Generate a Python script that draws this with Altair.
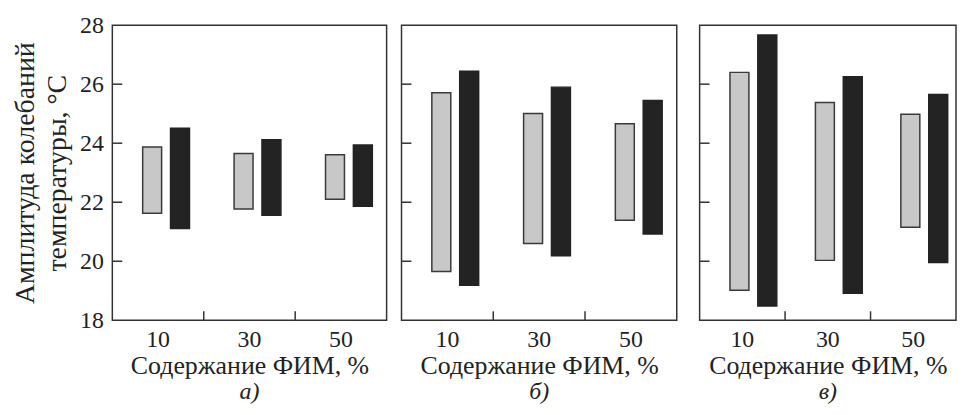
import altair as alt
import pandas as pd

FONT = "Liberation Serif"

categories = ["10", "30", "50"]
series = ["ряд 1", "ряд 2"]
panel_labels = ["а)", "б)", "в)"]

# panel а)
a_low_1 = [21.63, 21.77, 22.10]
a_high_1 = [23.87, 23.65, 23.61]
a_low_2 = [21.11, 21.56, 21.86]
a_high_2 = [24.51, 24.12, 23.94]

# panel б)
b_low_1 = [19.65, 20.60, 21.39]
b_high_1 = [25.71, 25.01, 24.66]
b_low_2 = [19.19, 20.19, 20.92]
b_high_2 = [26.44, 25.90, 25.45]

# panel в)
c_low_1 = [19.02, 20.03, 21.15]
c_high_1 = [26.40, 25.38, 24.98]
c_low_2 = [18.48, 18.92, 19.96]
c_high_2 = [27.67, 26.25, 25.65]

y_label_values = [18, 20, 22, 24, 26, 28]
y_tick_values = [20, 22, 24, 26]
x_tick_cats = ["30", "50"]

H = 297


def frame(low1, high1, low2, high2):
    rows = []
    for i, c in enumerate(categories):
        rows.append({"cat": c, "series": series[0], "low": low1[i], "high": high1[i]})
        rows.append({"cat": c, "series": series[1], "low": low2[i], "high": high2[i]})
    return pd.DataFrame(rows)


def panel(df, label, first, width):
    xscale = alt.Scale(domain=categories, paddingInner=0, paddingOuter=0)
    yscale = alt.Scale(domain=[18, 28], nice=False, zero=False)
    xaxis = alt.Axis(
        title="Содержание ФИМ, %", labelAngle=0, ticks=False, domain=False, grid=False,
        labelPadding=7, titlePadding=2, labelFont=FONT, titleFont=FONT,
        labelFontSize=24, titleFontSize=26, titleFontWeight="normal",
        labelColor="#222", titleColor="#222",
    )
    if first:
        yaxis = alt.Axis(
            title=["Амплитуда колебаний", "температуры, °C"], values=y_label_values,
            ticks=False, domain=False, grid=False, labelPadding=9, titlePadding=8,
            labelFont=FONT, titleFont=FONT, labelFontSize=24, titleFontSize=28,
            titleFontWeight="normal", titleLineHeight=32, labelColor="#222", titleColor="#222",
        )
    else:
        yaxis = None
    bars = alt.Chart(df).mark_bar(strokeWidth=1.5).encode(
        x=alt.X("cat:N", scale=xscale, axis=xaxis),
        xOffset=alt.XOffset(
            "series:N",
            scale=alt.Scale(domain=series, paddingInner=0.32, paddingOuter=0.8, align=0.68),
        ),
        y=alt.Y("low:Q", scale=yscale, axis=yaxis),
        y2="high:Q",
        color=alt.Color("series:N", scale=alt.Scale(domain=series, range=["#c8c8c8", "#232323"]), legend=None),
        stroke=alt.Stroke("series:N", scale=alt.Scale(domain=series, range=["#3a3a3a", "#232323"]), legend=None),
    )
    ytick = alt.Chart(pd.DataFrame({"v": y_tick_values})).mark_rule(color="#333", strokeWidth=1.5).encode(
        y=alt.Y("v:Q", scale=yscale, axis=yaxis),
        x=alt.value(0),
        x2=alt.value(10),
    )
    xtick = alt.Chart(pd.DataFrame({"cat": x_tick_cats})).mark_rule(color="#333", strokeWidth=1.5).encode(
        x=alt.X("cat:N", bandPosition=0, scale=xscale, axis=xaxis),
        y=alt.value(H - 9),
        y2=alt.value(H),
    )
    return alt.layer(bars, ytick, xtick).properties(
        width=width, height=H,
        title=alt.TitleParams(
            text=label, orient="bottom", anchor="middle", frame="group", font=FONT,
            fontSize=24, fontStyle="italic", fontWeight="normal", color="#222", offset=1,
        ),
    )


pa = panel(frame(a_low_1, a_high_1, a_low_2, a_high_2), panel_labels[0], True, 276)
pb = panel(frame(b_low_1, b_high_1, b_low_2, b_high_2), panel_labels[1], False, 277)
pc = panel(frame(c_low_1, c_high_1, c_low_2, c_high_2), panel_labels[2], False, 258)

chart = alt.hconcat(pa, alt.hconcat(pb, pc, spacing=20), spacing=12).properties(
    padding={"left": 3, "top": 3, "right": 0, "bottom": 0},
    background="white",
).configure_view(stroke="#333", strokeWidth=1.5)

chart.save("out.html", embed_options={"renderer": "svg", "actions": False})
